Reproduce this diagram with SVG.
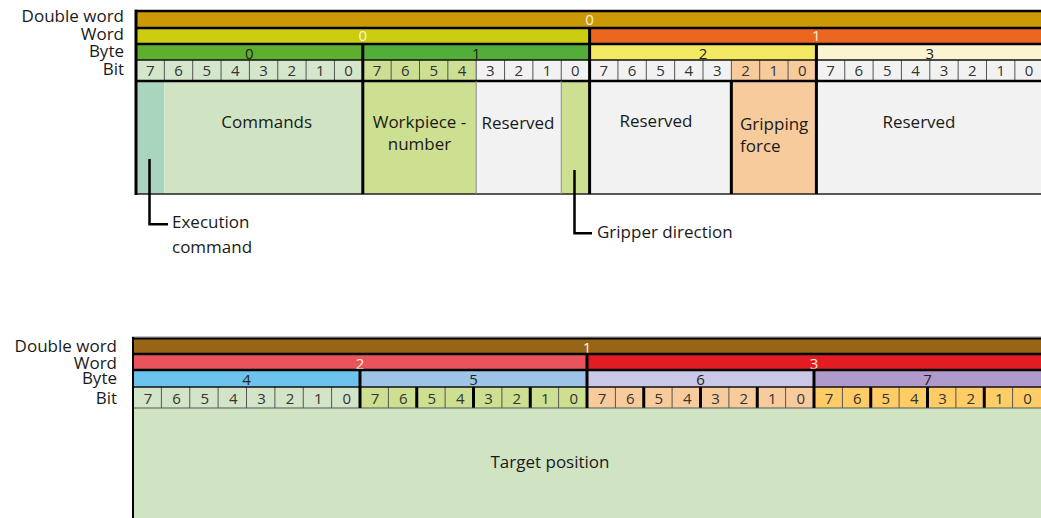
<svg xmlns="http://www.w3.org/2000/svg" width="1041" height="518" viewBox="0 0 1041 518">
<style>
text{font-family:"Open Sans","Noto Sans",sans-serif;}
.lbl{font-size:17px;fill:#1a1a1a;text-anchor:end;}
.fld{font-size:17px;fill:#1a1a1a;text-anchor:middle;}
.fldl{font-size:17px;fill:#1a1a1a;}
.bit{font-size:15px;fill:#333;text-anchor:middle;}
.byt{font-size:15px;fill:#222;text-anchor:middle;}
.wl{font-size:15px;fill:#FFF3DC;text-anchor:middle;}
.thk{stroke:#000;stroke-width:3;}
.med{stroke:#000;stroke-width:2.5;}
.thn{stroke:#555;stroke-width:1;}
.gry{stroke:#8a8a8a;stroke-width:1;}
.ann{fill:none;stroke:#000;stroke-width:2.5;}
</style>

<!-- ===== TOP REGISTER ===== -->
<g id="top-labels">
<text class="lbl" x="124" y="22">Double word</text>
<text class="lbl" x="124" y="40">Word</text>
<text class="lbl" x="124" y="57">Byte</text>
<text class="lbl" x="124" y="75">Bit</text>
</g>

<g id="top-doubleword-0">
<rect x="136" y="11" width="910" height="17" fill="#CC9906"/>
<text class="wl" x="589.6" y="25">0</text>
</g>
<g id="top-word-0">
<rect x="136" y="28" width="453.6" height="16" fill="#CCCC11"/>
<text class="wl" x="362.8" y="40.5">0</text>
</g>
<g id="top-word-1">
<rect x="589.6" y="28" width="456" height="16" fill="#EB661F"/>
<text class="wl" x="816.4" y="40.5">1</text>
</g>
<g id="top-byte-0">
<rect x="136" y="44" width="226.8" height="16" fill="#5FAF2E"/>
<text class="byt" x="249.4" y="58.5">0</text>
</g>
<g id="top-byte-1">
<rect x="362.8" y="44" width="226.8" height="16" fill="#52AD39"/>
<text class="byt" x="476.2" y="58.5">1</text>
</g>
<g id="top-byte-2">
<rect x="589.6" y="44" width="226.8" height="16" fill="#F4E962"/>
<text class="byt" x="703" y="58.5">2</text>
</g>
<g id="top-byte-3">
<rect x="816.4" y="44" width="230" height="16" fill="#FAF5D0"/>
<text class="byt" x="929.8" y="58.5">3</text>
</g>

<g id="top-bits">
<rect x="136" y="60" width="226.8" height="21" fill="#D4E6CB"/>
<rect x="362.8" y="60" width="113.4" height="21" fill="#CDDF93"/>
<rect x="476.2" y="60" width="255.15" height="21" fill="#F2F2F2"/>
<rect x="731.35" y="60" width="85.05" height="21" fill="#F8CB9D"/>
<rect x="816.4" y="60" width="230" height="21" fill="#F2F2F2"/>
<g class="thn">
<line x1="164.35" y1="60" x2="164.35" y2="81"/><line x1="192.7" y1="60" x2="192.7" y2="81"/><line x1="221.05" y1="60" x2="221.05" y2="81"/><line x1="249.4" y1="60" x2="249.4" y2="81"/><line x1="277.75" y1="60" x2="277.75" y2="81"/><line x1="306.1" y1="60" x2="306.1" y2="81"/><line x1="334.45" y1="60" x2="334.45" y2="81"/>
<line x1="391.15" y1="60" x2="391.15" y2="81"/><line x1="419.5" y1="60" x2="419.5" y2="81"/><line x1="447.85" y1="60" x2="447.85" y2="81"/><line x1="476.2" y1="60" x2="476.2" y2="81"/><line x1="504.55" y1="60" x2="504.55" y2="81"/><line x1="532.9" y1="60" x2="532.9" y2="81"/><line x1="561.25" y1="60" x2="561.25" y2="81"/>
<line x1="617.95" y1="60" x2="617.95" y2="81"/><line x1="646.3" y1="60" x2="646.3" y2="81"/><line x1="674.65" y1="60" x2="674.65" y2="81"/><line x1="703" y1="60" x2="703" y2="81"/><line x1="731.35" y1="60" x2="731.35" y2="81"/><line x1="759.7" y1="60" x2="759.7" y2="81"/><line x1="788.05" y1="60" x2="788.05" y2="81"/>
<line x1="844.75" y1="60" x2="844.75" y2="81"/><line x1="873.1" y1="60" x2="873.1" y2="81"/><line x1="901.45" y1="60" x2="901.45" y2="81"/><line x1="929.8" y1="60" x2="929.8" y2="81"/><line x1="958.15" y1="60" x2="958.15" y2="81"/><line x1="986.5" y1="60" x2="986.5" y2="81"/><line x1="1014.85" y1="60" x2="1014.85" y2="81"/>
</g>
<text class="bit" x="150.2" y="75.5">7</text><text class="bit" x="178.5" y="75.5">6</text><text class="bit" x="206.9" y="75.5">5</text><text class="bit" x="235.2" y="75.5">4</text><text class="bit" x="263.6" y="75.5">3</text><text class="bit" x="291.9" y="75.5">2</text><text class="bit" x="320.3" y="75.5">1</text><text class="bit" x="348.6" y="75.5">0</text>
<text class="bit" x="377" y="75.5">7</text><text class="bit" x="405.3" y="75.5">6</text><text class="bit" x="433.7" y="75.5">5</text><text class="bit" x="462" y="75.5">4</text><text class="bit" x="490.4" y="75.5">3</text><text class="bit" x="518.7" y="75.5">2</text><text class="bit" x="547.1" y="75.5">1</text><text class="bit" x="575.4" y="75.5">0</text>
<text class="bit" x="603.8" y="75.5">7</text><text class="bit" x="632.1" y="75.5">6</text><text class="bit" x="660.5" y="75.5">5</text><text class="bit" x="688.8" y="75.5">4</text><text class="bit" x="717.2" y="75.5">3</text><text class="bit" x="745.5" y="75.5">2</text><text class="bit" x="773.9" y="75.5">1</text><text class="bit" x="802.2" y="75.5">0</text>
<text class="bit" x="830.6" y="75.5">7</text><text class="bit" x="858.9" y="75.5">6</text><text class="bit" x="887.3" y="75.5">5</text><text class="bit" x="915.6" y="75.5">4</text><text class="bit" x="944" y="75.5">3</text><text class="bit" x="972.3" y="75.5">2</text><text class="bit" x="1000.7" y="75.5">1</text><text class="bit" x="1029" y="75.5">0</text>
</g>

<g id="field-execution-command">
<rect x="136" y="81" width="28.35" height="113" fill="#A9D5BF"/>
</g>
<g id="field-commands">
<rect x="164.35" y="81" width="198.45" height="113" fill="#D0E4C4"/>
<text class="fld" x="266.7" y="128">Commands</text>
</g>
<g id="field-workpiece-number">
<rect x="362.8" y="81" width="113.4" height="113" fill="#CDDF90"/>
<text class="fld" x="419.5" y="128">Workpiece -</text>
<text class="fld" x="419.5" y="150">number</text>
</g>
<g id="field-reserved-1">
<rect x="476.2" y="81" width="85.05" height="113" fill="#F2F2F2"/>
<text class="fld" x="518" y="129">Reserved</text>
</g>
<g id="field-gripper-direction">
<rect x="561.25" y="81" width="28.35" height="113" fill="#CDDF90"/>
</g>
<g id="field-reserved-2">
<rect x="589.6" y="81" width="141.75" height="113" fill="#F2F2F2"/>
<text class="fld" x="656" y="127">Reserved</text>
</g>
<g id="field-gripping-force">
<rect x="731.35" y="81" width="85.05" height="113" fill="#F8CB9D"/>
<text class="fldl" x="740" y="130">Gripping</text>
<text class="fldl" x="740" y="152">force</text>
</g>
<g id="field-reserved-3">
<rect x="816.4" y="81" width="230" height="113" fill="#F2F2F2"/>
<text class="fld" x="919" y="128">Reserved</text>
</g>

<g id="top-grid">
<line class="med" x1="135" y1="11" x2="1041" y2="11"/>
<line class="med" x1="135" y1="28" x2="1041" y2="28"/>
<line class="med" x1="135" y1="44" x2="1041" y2="44"/>
<line x1="135" y1="60" x2="1041" y2="60" stroke="#111" stroke-width="1.5"/>
<line class="med" x1="135" y1="81" x2="1041" y2="81"/>
<line x1="135" y1="194" x2="1041" y2="194" stroke="#222" stroke-width="1.5"/>
<line class="thk" x1="136" y1="9.8" x2="136" y2="195"/>
<line class="thk" x1="362.8" y1="44" x2="362.8" y2="194"/>
<line class="thk" x1="589.6" y1="28" x2="589.6" y2="194"/>
<line class="thk" x1="816.4" y1="44" x2="816.4" y2="194"/>
<line class="thk" x1="731.35" y1="81" x2="731.35" y2="194"/>
<line class="gry" x1="476.2" y1="81" x2="476.2" y2="194"/>
<line class="gry" x1="561.25" y1="81" x2="561.25" y2="194"/>
</g>

<g id="connectors">
<path class="ann" d="M149.5,159 V224.3 H168"/>
<path class="ann" d="M574.5,170 V233.3 H592"/>
</g>
<g id="label-execution-command">
<text class="fldl" x="172" y="228">Execution</text>
<text class="fldl" x="172" y="253">command</text>
</g>
<g id="label-gripper-direction">
<text class="fldl" x="597" y="238">Gripper direction</text>
</g>

<!-- ===== BOTTOM REGISTER ===== -->
<g id="bottom-labels">
<text class="lbl" x="117" y="352">Double word</text>
<text class="lbl" x="117" y="369">Word</text>
<text class="lbl" x="117" y="384">Byte</text>
<text class="lbl" x="117" y="404">Bit</text>
</g>

<g id="bottom-doubleword-1">
<rect x="133" y="338" width="910" height="16" fill="#976515"/>
<text class="wl" x="587" y="353">1</text>
</g>
<g id="bottom-word-2">
<rect x="133" y="354" width="454" height="16" fill="#E9535B"/>
<text class="wl" x="360" y="369">2</text>
</g>
<g id="bottom-word-3">
<rect x="587" y="354" width="456" height="16" fill="#E31C23"/>
<text class="wl" x="814" y="369">3</text>
</g>
<g id="bottom-byte-4">
<rect x="133" y="370" width="227" height="17" fill="#6BC3EE"/>
<text class="byt" x="246.5" y="385">4</text>
</g>
<g id="bottom-byte-5">
<rect x="360" y="370" width="227" height="17" fill="#9DC3E6"/>
<text class="byt" x="473.5" y="385">5</text>
</g>
<g id="bottom-byte-6">
<rect x="587" y="370" width="227" height="17" fill="#CBC7E6"/>
<text class="byt" x="700.5" y="385">6</text>
</g>
<g id="bottom-byte-7">
<rect x="814" y="370" width="229" height="17" fill="#B09ACB"/>
<text class="byt" x="927.5" y="385">7</text>
</g>

<g id="bottom-bits">
<rect x="133" y="387" width="227" height="21" fill="#D2E5C8"/>
<rect x="360" y="387" width="227" height="21" fill="#CDDF90"/>
<rect x="587" y="387" width="227" height="21" fill="#F8CB9D"/>
<rect x="814" y="387" width="229" height="21" fill="#FFCC66"/>
<g class="thn">
<line x1="161.4" y1="387" x2="161.4" y2="408"/><line x1="189.75" y1="387" x2="189.75" y2="408"/><line x1="218.1" y1="387" x2="218.1" y2="408"/><line x1="246.5" y1="387" x2="246.5" y2="408"/><line x1="274.9" y1="387" x2="274.9" y2="408"/><line x1="303.25" y1="387" x2="303.25" y2="408"/><line x1="331.6" y1="387" x2="331.6" y2="408"/>
<line x1="388.4" y1="387" x2="388.4" y2="408"/><line x1="445.1" y1="387" x2="445.1" y2="408"/><line x1="501.9" y1="387" x2="501.9" y2="408"/><line x1="558.6" y1="387" x2="558.6" y2="408"/>
<line x1="615.4" y1="387" x2="615.4" y2="408"/><line x1="672.1" y1="387" x2="672.1" y2="408"/><line x1="728.9" y1="387" x2="728.9" y2="408"/><line x1="785.6" y1="387" x2="785.6" y2="408"/>
<line x1="842.4" y1="387" x2="842.4" y2="408"/><line x1="899.1" y1="387" x2="899.1" y2="408"/><line x1="955.9" y1="387" x2="955.9" y2="408"/><line x1="1012.6" y1="387" x2="1012.6" y2="408"/>
</g>
<g class="thk">
<line x1="416.75" y1="387" x2="416.75" y2="408"/><line x1="473.5" y1="387" x2="473.5" y2="408"/><line x1="530.25" y1="387" x2="530.25" y2="408"/>
<line x1="643.75" y1="387" x2="643.75" y2="408"/><line x1="700.5" y1="387" x2="700.5" y2="408"/><line x1="757.25" y1="387" x2="757.25" y2="408"/>
<line x1="870.75" y1="387" x2="870.75" y2="408"/><line x1="927.5" y1="387" x2="927.5" y2="408"/><line x1="984.25" y1="387" x2="984.25" y2="408"/>
</g>
<text class="bit" x="148" y="404">7</text><text class="bit" x="176.5" y="404">6</text><text class="bit" x="204.8" y="404">5</text><text class="bit" x="233.2" y="404">4</text><text class="bit" x="261.6" y="404">3</text><text class="bit" x="290" y="404">2</text><text class="bit" x="318.3" y="404">1</text><text class="bit" x="346.7" y="404">0</text>
<text class="bit" x="375" y="404">7</text><text class="bit" x="403.4" y="404">6</text><text class="bit" x="431.8" y="404">5</text><text class="bit" x="460.2" y="404">4</text><text class="bit" x="488.5" y="404">3</text><text class="bit" x="516.9" y="404">2</text><text class="bit" x="545.3" y="404">1</text><text class="bit" x="573.7" y="404">0</text>
<text class="bit" x="602" y="404">7</text><text class="bit" x="630.4" y="404">6</text><text class="bit" x="658.8" y="404">5</text><text class="bit" x="687.2" y="404">4</text><text class="bit" x="715.5" y="404">3</text><text class="bit" x="743.9" y="404">2</text><text class="bit" x="772.3" y="404">1</text><text class="bit" x="800.7" y="404">0</text>
<text class="bit" x="829" y="404">7</text><text class="bit" x="857.4" y="404">6</text><text class="bit" x="885.8" y="404">5</text><text class="bit" x="914.2" y="404">4</text><text class="bit" x="942.5" y="404">3</text><text class="bit" x="970.9" y="404">2</text><text class="bit" x="999.3" y="404">1</text><text class="bit" x="1027.5" y="404">0</text>
</g>

<g id="field-target-position">
<rect x="133" y="408" width="910" height="112" fill="#D0E4C4"/>
<text class="fld" x="550" y="468">Target position</text>
</g>

<g id="bottom-grid">
<line x1="132" y1="337" x2="1041" y2="337" stroke="#888" stroke-width="1"/>
<line x1="132" y1="338.5" x2="1041" y2="338.5" stroke="#000" stroke-width="2"/>
<line class="med" x1="132" y1="354" x2="1041" y2="354"/>
<line class="med" x1="132" y1="370" x2="1041" y2="370"/>
<line x1="132" y1="387" x2="1041" y2="387" stroke="#111" stroke-width="1.5"/>
<line x1="132" y1="408" x2="1041" y2="408" stroke="#555" stroke-width="1"/>
<line x1="133" y1="337" x2="133" y2="518" stroke="#000" stroke-width="2"/>
<line class="thk" x1="360" y1="370" x2="360" y2="408"/>
<line class="thk" x1="587" y1="354" x2="587" y2="408"/>
<line class="thk" x1="814" y1="370" x2="814" y2="408"/>
</g>
</svg>
